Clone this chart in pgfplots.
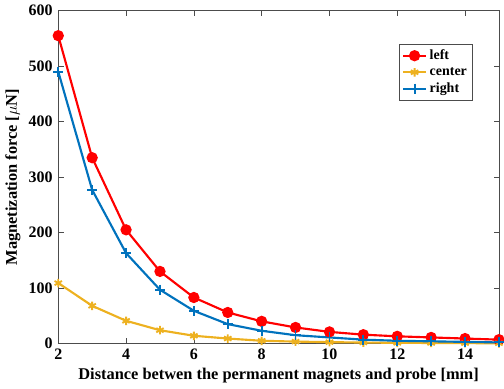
\documentclass[border=0pt]{standalone}
\usepackage{pgfplots}
\pgfplotsset{compat=1.18}
\usepackage{fontspec}
\setmainfont{Liberation Serif}
\definecolor{mred}{rgb}{1,0,0}
\definecolor{myel}{rgb}{0.929,0.694,0.125}
\definecolor{mblue}{rgb}{0,0.447,0.741}
\begin{document}
\fontsize{12}{14}\selectfont\bfseries
\begin{tikzpicture}
\begin{axis}[
  scale only axis,
  width=331pt, height=250pt,
  xmin=2, xmax=15, ymin=0, ymax=600,
  xtick={2,4,...,14}, ytick={0,100,...,600},
  tick align=inside,
  tick style={black!70, line width=0.5pt},
  major tick length=4pt,
  axis line style={black!70, line width=0.6pt},
  /pgf/number format/assume math mode=true,
  tick label style={font=\fontsize{12}{14}\selectfont\bfseries},
  label style={font=\fontsize{12.3}{14}\selectfont\bfseries},
  xlabel={Distance betwen the permanent magnets and probe [mm]},
  ylabel={Magnetization force [$\mu$N]},
  xlabel style={yshift=2pt},
  ylabel style={yshift=-2pt},
  legend style={at={(0.94,0.9)}, anchor=north east, draw=black!70, font=\fontsize{10.5}{12}\selectfont\bfseries, row sep=0pt, inner sep=2pt},
  legend cell align=left,
  every axis plot/.append style={line width=1.6pt},
  clip=false,
]
\addplot[mred, mark=*, mark size=3.4pt] coordinates {
(2,555) (3,335) (4,205) (5,130) (6,83) (7,56) (8,40) (9,29) (10,21) (11,16) (12,13) (13,11) (14,9) (15,7)};
\addlegendentry{left}
\addplot[myel, mark=asterisk, mark size=3.2pt, mark options={line width=1.4pt}] coordinates {
(2,109) (3,68) (4,41) (5,24) (6,14) (7,9) (8,5) (9,3.5) (10,2.5) (11,1.8) (12,1.3) (13,1) (14,0.7) (15,0.5)};
\addlegendentry{center}
\addplot[mblue, mark=+, mark size=3.8pt, mark options={line width=1.4pt}] coordinates {
(2,490) (3,277) (4,163) (5,97) (6,59) (7,35) (8,23) (9,15) (10,11) (11,7) (12,5) (13,4) (14,3) (15,2)};
\addlegendentry{right}
\end{axis}
\end{tikzpicture}
\end{document}
